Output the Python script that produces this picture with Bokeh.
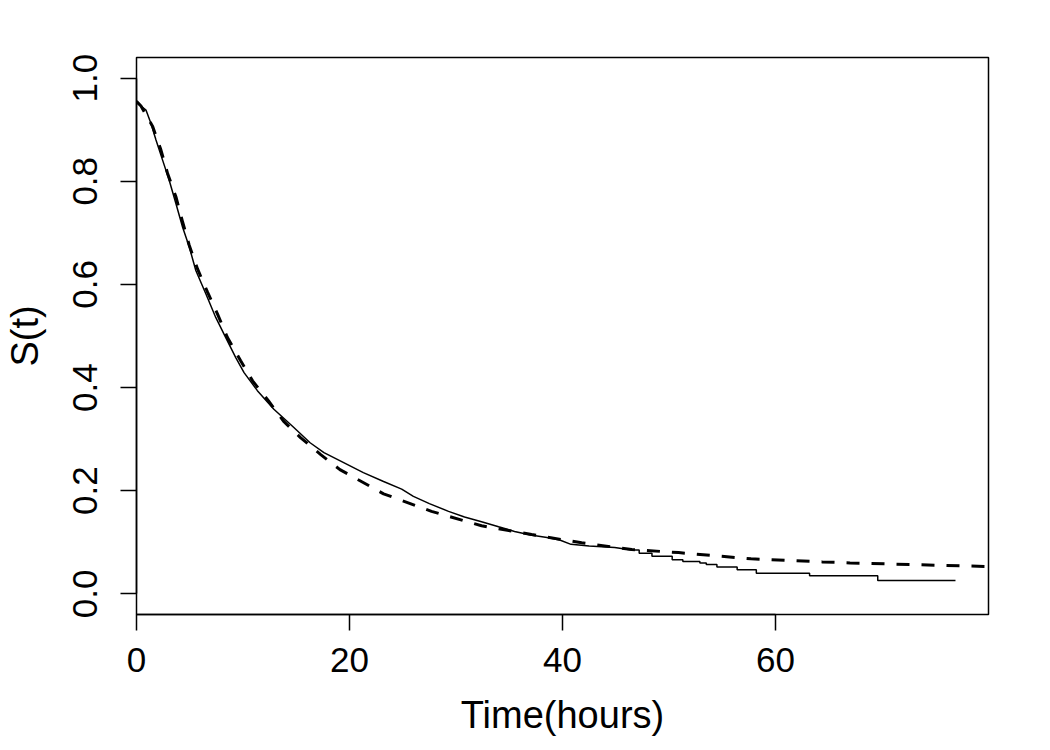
from bokeh.plotting import figure
from bokeh.models import Range1d, FixedTicker, PrintfTickFormatter
from bokeh.embed import file_html
from bokeh.resources import INLINE

# Kaplan-Meier estimate (solid)
km_time = [0, 0.11, 0.89, 1.36, 1.83, 2.45, 3.07, 3.70, 4.33, 4.95, 5.57, 6.51,
           7.44, 8.38, 9.32, 10.1, 11.35, 12.9, 14.8, 16.3, 17.6, 19.5, 21.3,
           23.2, 24.9, 26.0, 27.5, 29.3, 30.8, 32.4, 34.0, 35.5, 37.0, 38.7,
           39.8, 40.8, 42.5, 44.9, 46.5, 47.2, 48.4, 50.3, 51.3, 52.9, 53.5,
           54.5, 56.4, 58.2, 63.2, 69.6, 76.9]
km_surv = [0.955, 0.951, 0.938, 0.912, 0.880, 0.841, 0.802, 0.757, 0.711, 0.673,
           0.627, 0.582, 0.536, 0.497, 0.458, 0.429, 0.394, 0.358, 0.322, 0.293,
           0.274, 0.254, 0.235, 0.218, 0.203, 0.189, 0.175, 0.160, 0.149, 0.140,
           0.130, 0.121, 0.114, 0.109, 0.104, 0.096, 0.093, 0.090, 0.085, 0.079,
           0.073, 0.066, 0.063, 0.060, 0.057, 0.052, 0.047, 0.040, 0.035, 0.026,
           0.026]

# fitted parametric curve (dashed)
fit_time = [0, 0.42, 1.52, 2.29, 2.92, 3.70, 4.33, 4.95, 5.73, 6.67, 7.6, 8.54,
            9.78, 10.9, 12.4, 13.8, 15.4, 17.3, 19.1, 21.2, 23.2, 27.7, 32.4,
            37.1, 41.8, 46.5, 50.9, 57.7, 64.4, 67.0, 80.0]
fit_surv = [0.955, 0.946, 0.906, 0.861, 0.815, 0.770, 0.721, 0.676, 0.630, 0.585,
            0.543, 0.497, 0.452, 0.413, 0.374, 0.335, 0.303, 0.270, 0.241, 0.217,
            0.194, 0.160, 0.132, 0.115, 0.099, 0.086, 0.080, 0.068, 0.062, 0.060,
            0.053]

x_ticks = [0, 20, 40, 60]
y_ticks = [0.0, 0.2, 0.4, 0.6, 0.8, 1.0]

# build KM path: dense part drawn continuous, sparse tail drawn as steps
step_from = 47.0
km_x, km_y = [], []
for i, (t, s) in enumerate(zip(km_time, km_surv)):
    if i > 0 and t > step_from:
        km_x.append(t)
        km_y.append(km_surv[i - 1])
    km_x.append(t)
    km_y.append(s)

FONT = "Liberation Sans"

p = figure(width=1050, height=750, x_range=Range1d(0, 80), y_range=Range1d(-0.04, 1.04),
           output_backend="svg", toolbar_location=None,
           min_border_left=135, min_border_right=62, min_border_top=57, min_border_bottom=136)

p.line(km_x, km_y, line_color="black", line_width=1.5)
p.line(fit_time, fit_surv, line_color="black", line_width=3, line_dash="13 12", line_cap="butt")

p.xgrid.visible = False
p.ygrid.visible = False
p.outline_line_color = "black"
p.outline_line_width = 1.5
p.outline_line_alpha = 1.0
p.background_fill_color = "white"
p.border_fill_color = "white"

for ax, ticks in ((p.xaxis[0], x_ticks), (p.yaxis[0], y_ticks)):
    ax.ticker = FixedTicker(ticks=ticks)
    ax.bounds = (ticks[0], ticks[-1])
    ax.major_tick_out = 16
    ax.major_tick_in = 0
    ax.minor_tick_out = 0
    ax.minor_tick_in = 0
    ax.axis_line_color = "black"
    ax.axis_line_width = 1.5
    ax.major_tick_line_color = "black"
    ax.major_tick_line_width = 1.5
    ax.major_label_text_font = FONT
    ax.major_label_text_font_size = "35px"
    ax.major_label_text_color = "black"
    ax.axis_label_text_font = FONT
    ax.axis_label_text_font_size = "38px"
    ax.axis_label_text_font_style = "normal"
    ax.axis_label_text_color = "black"

p.xaxis[0].formatter = PrintfTickFormatter(format="%d")
p.yaxis[0].formatter = PrintfTickFormatter(format="%.1f")
p.yaxis[0].major_label_orientation = "vertical"
p.xaxis[0].axis_label = "Time(hours)"
p.yaxis[0].axis_label = "S(t)"
p.xaxis[0].major_label_standoff = 17
p.yaxis[0].major_label_standoff = 23
p.xaxis[0].axis_label_standoff = 19
p.yaxis[0].axis_label_standoff = 25

open("out.html", "w").write(file_html(p, INLINE))
